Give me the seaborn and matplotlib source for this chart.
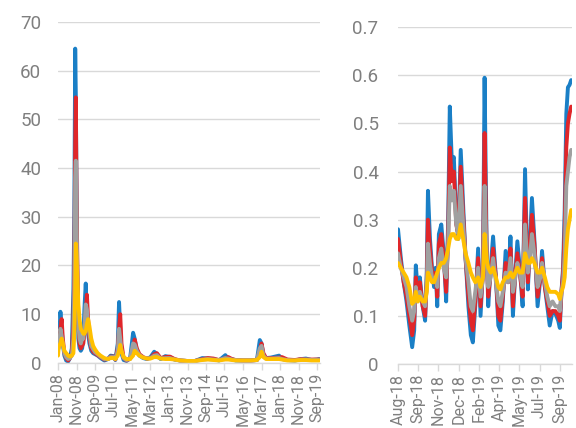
import pandas as pd
import numpy as np
import matplotlib
matplotlib.use("Agg")
import matplotlib.pyplot as plt
import seaborn as sns

# ---------------- Left panel data (full history) ----------------
left_dates = [
    "2008-01-01", "2008-01-15", "2008-02-10", "2008-03-01", "2008-03-20", "2008-04-15",
    "2008-05-15", "2008-06-15", "2008-07-15", "2008-08-15", "2008-09-10", "2008-09-25",
    "2008-10-10", "2008-10-20", "2008-11-01", "2008-11-15", "2008-12-01", "2008-12-20",
    "2009-01-10", "2009-02-01", "2009-02-20", "2009-03-10", "2009-04-01", "2009-04-20",
    "2009-05-10", "2009-06-01", "2009-07-01", "2009-08-01", "2009-09-01", "2009-10-15",
    "2009-12-01", "2010-02-01", "2010-04-01", "2010-05-15", "2010-07-01", "2010-08-01",
    "2010-09-10", "2010-10-01", "2010-10-20", "2010-11-10", "2010-12-15", "2011-02-01",
    "2011-04-01", "2011-05-20", "2011-06-15", "2011-07-20", "2011-09-01", "2011-11-01",
    "2012-01-01", "2012-03-01", "2012-05-01", "2012-06-15", "2012-08-15", "2012-11-01",
    "2013-01-15", "2013-04-01", "2013-07-01", "2013-11-01", "2014-03-01", "2014-07-01",
    "2014-10-01", "2015-01-01", "2015-04-01", "2015-07-15", "2015-09-01", "2015-11-01",
    "2016-01-01", "2016-05-01", "2016-09-01", "2016-12-15", "2017-02-01", "2017-03-01",
    "2017-04-01", "2017-05-15", "2017-08-01", "2017-12-15", "2018-02-01", "2018-05-01",
    "2018-09-01", "2018-12-15", "2019-03-01", "2019-06-01", "2019-09-01", "2019-10-05",
]
left_blue = [
    6.0, 4.0, 10.5, 7.0, 4.0, 1.5, 0.5, 0.3, 1.0, 3.0, 15.0, 30.0,
    64.5, 55.0, 35.0, 15.0, 5.0, 3.0, 2.5, 3.0, 5.0, 11.0, 16.3, 10.0,
    6.0, 4.0, 2.5, 2.0, 1.8, 1.5, 1.0, 0.5, 0.8, 1.5, 1.4, 0.6,
    4.0, 12.5, 7.0, 2.0, 0.6, 0.4, 1.0, 6.2, 5.0, 2.5, 1.5, 1.0,
    0.8, 1.2, 2.3, 1.8, 0.8, 1.4, 1.2, 0.7, 0.5, 0.4, 0.4, 1.0,
    0.9, 0.8, 0.5, 1.6, 0.8, 0.8, 0.5, 0.5, 0.5, 0.6, 4.7, 4.0,
    1.5, 1.0, 1.1, 1.5, 0.8, 0.6, 0.5, 0.8, 0.9, 0.6, 0.7, 0.8,
]
left_red = [
    5.0, 4.0, 7.0, 9.0, 5.0, 2.0, 1.0, 0.5, 1.0, 2.0, 8.0, 20.0,
    45.0, 54.5, 34.0, 20.0, 8.0, 4.0, 3.0, 3.5, 4.0, 6.0, 10.0, 14.0,
    9.0, 5.0, 3.0, 2.3, 2.0, 1.6, 1.2, 0.7, 0.8, 1.3, 1.3, 0.7,
    3.0, 7.0, 10.0, 4.0, 1.0, 0.5, 0.9, 3.0, 4.8, 3.0, 1.8, 1.2,
    0.9, 1.0, 1.8, 2.0, 1.0, 1.2, 1.3, 0.8, 0.5, 0.4, 0.4, 0.8,
    1.0, 0.9, 0.6, 1.0, 1.2, 0.8, 0.6, 0.5, 0.5, 0.6, 2.5, 4.0,
    2.0, 1.0, 1.0, 1.1, 1.2, 0.7, 0.6, 0.8, 0.7, 0.7, 0.7, 0.7,
]
left_grey = [
    3.5, 3.0, 7.0, 5.5, 4.0, 2.0, 1.2, 0.8, 1.0, 1.5, 5.0, 15.0,
    38.0, 41.5, 30.0, 15.0, 8.0, 5.0, 4.0, 5.0, 5.0, 7.0, 12.0, 11.0,
    8.0, 6.0, 3.5, 2.8, 2.2, 1.8, 1.3, 0.8, 0.8, 1.2, 1.2, 0.8,
    2.5, 7.0, 5.0, 2.5, 1.0, 0.6, 0.8, 4.0, 3.8, 2.5, 1.6, 1.1,
    0.9, 1.0, 1.5, 1.6, 0.9, 1.0, 1.0, 0.7, 0.5, 0.4, 0.4, 0.7,
    0.8, 0.7, 0.6, 1.0, 0.9, 0.7, 0.6, 0.5, 0.5, 0.6, 3.0, 3.5,
    1.5, 0.9, 0.9, 1.0, 0.8, 0.6, 0.5, 0.7, 0.7, 0.6, 0.6, 0.6,
]
left_yellow = [
    1.5, 3.5, 4.0, 5.0, 4.0, 2.5, 2.0, 1.5, 1.3, 1.5, 2.0, 6.0,
    15.0, 24.5, 22.0, 17.0, 12.0, 9.0, 7.0, 6.5, 6.0, 6.0, 6.5, 8.0,
    9.0, 7.5, 5.0, 3.5, 2.8, 2.0, 1.5, 1.0, 0.8, 1.0, 1.0, 0.8,
    1.5, 2.5, 3.7, 2.5, 1.2, 0.8, 0.8, 1.5, 2.5, 2.0, 1.5, 1.1,
    0.9, 0.9, 1.2, 1.2, 0.9, 0.8, 0.8, 0.7, 0.5, 0.4, 0.4, 0.6,
    0.7, 0.6, 0.5, 0.7, 0.7, 0.6, 0.5, 0.5, 0.5, 0.6, 1.2, 2.3,
    1.2, 0.8, 0.8, 0.8, 0.7, 0.5, 0.5, 0.6, 0.6, 0.5, 0.5, 0.5,
]
left_ticks = ["2008-01-01", "2008-11-01", "2009-09-01", "2010-07-01", "2011-05-01",
              "2012-03-01", "2013-01-01", "2013-11-01", "2014-09-01", "2015-07-01",
              "2016-05-01", "2017-03-01", "2018-01-01", "2018-11-01", "2019-09-01"]
left_tick_labels = ["Jan-08", "Nov-08", "Sep-09", "Jul-10", "May-11", "Mar-12", "Jan-13",
                    "Nov-13", "Sep-14", "Jul-15", "May-16", "Mar-17", "Jan-18", "Nov-18",
                    "Sep-19"]

# ---------------- Right panel data (last ~14 months) ----------------
right_dates = [
    "2018-08-01", "2018-08-08", "2018-08-15", "2018-08-22", "2018-08-29", "2018-09-05",
    "2018-09-10", "2018-09-14", "2018-09-19", "2018-09-24", "2018-10-01", "2018-10-07",
    "2018-10-11", "2018-10-14", "2018-10-19", "2018-10-24", "2018-10-29", "2018-11-02",
    "2018-11-06", "2018-11-10", "2018-11-16", "2018-11-22", "2018-11-28", "2018-12-03",
    "2018-12-07", "2018-12-12", "2018-12-17", "2018-12-23", "2018-12-28", "2019-01-03",
    "2019-01-09", "2019-01-15", "2019-01-22", "2019-01-28", "2019-02-02", "2019-02-08",
    "2019-02-15", "2019-02-21", "2019-02-27", "2019-03-03", "2019-03-08", "2019-03-12",
    "2019-03-18", "2019-03-24", "2019-03-31", "2019-04-06", "2019-04-11", "2019-04-17",
    "2019-04-24", "2019-04-30", "2019-05-06", "2019-05-12", "2019-05-18", "2019-05-23",
    "2019-05-29", "2019-06-05", "2019-06-11", "2019-06-18", "2019-06-23", "2019-06-28",
    "2019-07-04", "2019-07-12", "2019-07-19", "2019-07-23", "2019-07-30", "2019-08-05",
    "2019-08-11", "2019-08-18", "2019-08-25", "2019-09-01", "2019-09-05", "2019-09-09",
    "2019-09-13", "2019-09-17", "2019-09-21", "2019-09-25", "2019-09-29", "2019-10-03",
]
right_blue = [
    0.28, 0.22, 0.17, 0.13, 0.08, 0.035, 0.07, 0.205, 0.15, 0.18, 0.12, 0.09,
    0.19, 0.36, 0.26, 0.20, 0.16, 0.20, 0.12, 0.27, 0.29, 0.23, 0.13, 0.30,
    0.535, 0.42, 0.43, 0.30, 0.26, 0.445, 0.33, 0.22, 0.12, 0.06, 0.045, 0.12,
    0.24, 0.10, 0.20, 0.595, 0.25, 0.12, 0.20, 0.265, 0.18, 0.08, 0.07, 0.13,
    0.235, 0.17, 0.265, 0.10, 0.19, 0.255, 0.20, 0.12, 0.405, 0.155, 0.25, 0.345,
    0.26, 0.12, 0.18, 0.235, 0.16, 0.12, 0.08, 0.11, 0.105, 0.09, 0.075, 0.15,
    0.20, 0.32, 0.52, 0.575, 0.58, 0.59,
]
right_red = [
    0.26, 0.21, 0.17, 0.14, 0.10, 0.06, 0.09, 0.18, 0.14, 0.17, 0.12, 0.10,
    0.17, 0.30, 0.24, 0.19, 0.17, 0.19, 0.14, 0.25, 0.27, 0.22, 0.15, 0.27,
    0.45, 0.38, 0.40, 0.29, 0.27, 0.41, 0.31, 0.22, 0.14, 0.09, 0.07, 0.13,
    0.22, 0.12, 0.19, 0.48, 0.23, 0.14, 0.19, 0.24, 0.18, 0.10, 0.09, 0.14,
    0.21, 0.17, 0.24, 0.12, 0.19, 0.23, 0.19, 0.14, 0.345, 0.17, 0.24, 0.31,
    0.25, 0.14, 0.18, 0.22, 0.16, 0.13, 0.10, 0.11, 0.11, 0.10, 0.09, 0.15,
    0.19, 0.28, 0.45, 0.50, 0.52, 0.535,
]
right_grey = [
    0.23, 0.20, 0.18, 0.16, 0.12, 0.09, 0.11, 0.16, 0.13, 0.15, 0.13, 0.12,
    0.16, 0.25, 0.21, 0.18, 0.17, 0.18, 0.16, 0.22, 0.24, 0.20, 0.18, 0.25,
    0.37, 0.34, 0.36, 0.29, 0.27, 0.37, 0.29, 0.22, 0.17, 0.12, 0.11, 0.15,
    0.20, 0.14, 0.18, 0.37, 0.22, 0.16, 0.18, 0.22, 0.17, 0.13, 0.12, 0.15,
    0.19, 0.17, 0.22, 0.15, 0.18, 0.21, 0.19, 0.16, 0.29, 0.19, 0.22, 0.27,
    0.23, 0.16, 0.18, 0.21, 0.17, 0.14, 0.12, 0.13, 0.12, 0.12, 0.11, 0.15,
    0.17, 0.23, 0.37, 0.40, 0.43, 0.445,
]
right_yellow = [
    0.21, 0.20, 0.19, 0.18, 0.16, 0.125, 0.13, 0.15, 0.13, 0.14, 0.13, 0.13,
    0.15, 0.19, 0.18, 0.17, 0.17, 0.18, 0.19, 0.20, 0.21, 0.21, 0.22, 0.24,
    0.26, 0.27, 0.27, 0.26, 0.26, 0.29, 0.26, 0.23, 0.21, 0.19, 0.18, 0.17,
    0.18, 0.16, 0.18, 0.27, 0.22, 0.20, 0.19, 0.20, 0.18, 0.16, 0.155, 0.17,
    0.18, 0.18, 0.19, 0.18, 0.19, 0.20, 0.19, 0.19, 0.23, 0.21, 0.21, 0.22,
    0.21, 0.19, 0.19, 0.20, 0.18, 0.16, 0.15, 0.15, 0.15, 0.145, 0.135, 0.15,
    0.16, 0.18, 0.24, 0.28, 0.30, 0.32,
]
right_ticks = ["2018-08-01", "2018-09-20", "2018-11-09", "2018-12-29", "2019-02-17",
               "2019-04-08", "2019-05-28", "2019-07-17", "2019-09-05"]
right_tick_labels = ["Aug-18", "Sep-18", "Nov-18", "Dec-18", "Feb-19", "Apr-19",
                     "May-19", "Jul-19", "Sep-19"]

series_names = ["A", "B", "C", "D"]
colors = ["#1a7fc6", "#e0262a", "#a0a0a0", "#ffc000"]


def long_frame(dates, cols):
    frames = []
    for name, vals in zip(series_names, cols):
        frames.append(pd.DataFrame({"date": pd.to_datetime(dates), "value": vals, "series": name}))
    return pd.concat(frames, ignore_index=True)


left_df = long_frame(left_dates, [left_blue, left_red, left_grey, left_yellow])
right_df = long_frame(right_dates, [right_blue, right_red, right_grey, right_yellow])

sns.set_style("white")
plt.rcParams["font.family"] = ["Roboto", "DejaVu Sans"]

fig = plt.figure(figsize=(5.76, 4.28), dpi=100)
ax1 = fig.add_axes([0.1007, 0.152, 0.455, 0.797])
ax2 = fig.add_axes([0.691, 0.1495, 0.302, 0.787])

grid_c = "#d9d9d9"
text_c = "#7f7f7f"


def style(ax, df, ylim, yticks, yfmt, xlim, ticks, labels, pad):
    sns.lineplot(data=df, x="date", y="value", hue="series", palette=colors,
                 hue_order=series_names, linewidth=2.8, legend=False, ax=ax,
                 estimator=None, sort=True)
    ax.set_ylim(*ylim)
    ax.set_xlim(pd.Timestamp(xlim[0]), pd.Timestamp(xlim[1]))
    ax.set_yticks(yticks)
    ax.set_yticklabels([yfmt(v) for v in yticks])
    ax.set_xticks(pd.to_datetime(ticks))
    ax.set_xticklabels(labels, rotation=90)
    ax.set_xlabel("")
    ax.set_ylabel("")
    for s in ["top", "right", "left"]:
        ax.spines[s].set_visible(False)
    ax.spines["bottom"].set_color(grid_c)
    ax.spines["bottom"].set_linewidth(1.0)
    ax.grid(axis="y", color=grid_c, linewidth=1.0)
    ax.set_axisbelow(True)
    ax.tick_params(axis="y", length=0, pad=pad, labelsize=13.5, labelcolor=text_c)
    ax.tick_params(axis="x", length=5, width=1, color=grid_c, pad=2,
                   labelsize=11.5, labelcolor=text_c, bottom=True)


style(ax1, left_df, (0, 70), list(range(0, 71, 10)), lambda v: f"{v:d}",
      ("2008-01-01", "2019-10-20"), left_ticks, left_tick_labels, 12)
style(ax2, right_df, (0, 0.7), [0, 0.1, 0.2, 0.3, 0.4, 0.5, 0.6, 0.7],
      lambda v: "0" if v == 0 else f"{v:.1f}",
      ("2018-08-01", "2019-10-05"), right_ticks, right_tick_labels, 14)

fig.savefig("out.png", dpi=100)
